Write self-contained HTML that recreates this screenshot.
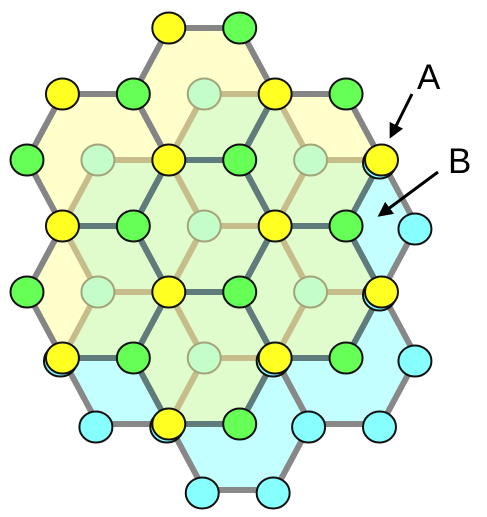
<!DOCTYPE html>
<html><head><meta charset="utf-8">
<style>
html,body{margin:0;padding:0;background:#fff;}
svg{display:block;}
text{font-family:"Liberation Sans",sans-serif;}
</style></head>
<body>
<svg id="svg" width="487" height="517" viewBox="0 0 487 517" xmlns="http://www.w3.org/2000/svg">
<defs>
<clipPath id="cyanClip"></clipPath>
<clipPath id="yellowClip"></clipPath>
<marker id="ah" viewBox="0 0 10 10" refX="8" refY="5" markerWidth="5" markerHeight="5" orient="auto"><path d="M0,0 L10,5 L0,10 z" fill="#000"/></marker>
</defs>
<g id="fills"></g>
<g id="edges"></g>
<g id="nodes"></g>
<g>
<text x="417" y="89" font-size="35" fill="#000">A</text>
<line x1="412" y1="94" x2="391" y2="136" stroke="#000" stroke-width="3" marker-end="url(#ah)"/>
</g>
<g>
<text x="448" y="173" font-size="35" fill="#000">B</text>
<line x1="438" y1="172" x2="380" y2="215" stroke="#000" stroke-width="3" marker-end="url(#ah)"/>
</g>
</svg>
<script>
// lattice indices (k,n)
const topHexCenters = [[5,1],[2,2],[8,2],[5,3],[2,4],[8,4],[5,5]];
const cyanHexCenters = [[6,2],[3,3],[9,3],[6,4],[3,5],[9,5],[6,6]];
const yellowNodes = [[4,0],[1,1],[7,1],[4,2],[10,2],[1,3],[7,3],[4,4],[10,4],[1,5],[7,5],[4,6]];
const greenNodes = [[6,0],[3,1],[9,1],[0,2],[6,2],[3,3],[9,3],[0,4],[6,4],[3,5],[9,5],[6,6]];
const lightNodes = [[5,1],[2,2],[8,2],[5,3],[2,4],[8,4],[5,5]];
const cyanNodes = [[11,3],[11,5],[2,6],[8,6],[10,6],[5,7],[7,7],[10,2],[1,5],[4,6],[7,5],[10,4]];

const NS="http://www.w3.org/2000/svg";
const X=k=>27+35.45*k, Y=n=>28+66*n;
function el(t,a,p){const e=document.createElementNS(NS,t);for(const q in a)e.setAttribute(q,a[q]);p.appendChild(e);return e;}
function hexPts(c){const k=c[0],n=c[1];return [[k-2,n],[k-1,n-1],[k+1,n-1],[k+2,n],[k+1,n+1],[k-1,n+1]];}
function ptsStr(c){return hexPts(c).map(p=>X(p[0])+','+Y(p[1])).join(' ');}
const fills=document.getElementById('fills'),edges=document.getElementById('edges'),nodes=document.getElementById('nodes');
const cc=document.getElementById('cyanClip'),yc=document.getElementById('yellowClip');
cyanHexCenters.forEach(c=>el('polygon',{points:ptsStr(c)},cc));
topHexCenters.forEach(c=>el('polygon',{points:ptsStr(c)},yc));

cyanHexCenters.forEach(c=>{
 const p=el('polygon',{points:ptsStr(c),fill:'#c4ffff'},fills);
 
 
});
topHexCenters.forEach(c=>{
 const p=el('polygon',{points:ptsStr(c),fill:'#ffffcc'},fills);
 
 
});
const ov=el('g',{'clip-path':'url(#cyanClip)'},fills);
topHexCenters.forEach(c=>{
 const p=el('polygon',{points:ptsStr(c),fill:'#e0fccc'},ov);
 
 
});
const mask=el('mask',{id:'outY'},document.querySelector('defs'));
el('rect',{x:0,y:0,width:487,height:517,fill:'#fff'},mask);
topHexCenters.forEach(c=>el('polygon',{points:ptsStr(c),fill:'#000'},mask));
const cg=el('g',{mask:'url(#outY)'},edges);
const ct=el('g',{'clip-path':'url(#yellowClip)'},edges);
cyanHexCenters.forEach(c=>{
 const a=el('polygon',{points:ptsStr(c),fill:'none',stroke:'#888','stroke-width':6,'stroke-linejoin':'round'},cg);
 
 
 const b=el('polygon',{points:ptsStr(c),fill:'none',stroke:'#c6bd8a','stroke-width':6,'stroke-linejoin':'round'},ct);
 
 
});
const mask2=el('mask',{id:'outC'},document.querySelector('defs'));
el('rect',{x:0,y:0,width:487,height:517,fill:'#fff'},mask2);
cyanHexCenters.forEach(c=>el('polygon',{points:ptsStr(c),fill:'#000'},mask2));
const tg=el('g',{mask:'url(#outC)'},edges);
const tt=el('g',{'clip-path':'url(#cyanClip)'},edges);
topHexCenters.forEach(c=>{
 const a=el('polygon',{points:ptsStr(c),fill:'none',stroke:'#858585','stroke-width':6,'stroke-linejoin':'round'},tg);
 
 
 const b=el('polygon',{points:ptsStr(c),fill:'none',stroke:'#5f7b7b','stroke-width':6,'stroke-linejoin':'round'},tt);
 
 
});
function node(p,fill,stroke,sw,dx,dy,name){
 const e=el('ellipse',{cx:X(p[0])+dx,cy:Y(p[1])+dy,rx:16.5,ry:15.5,fill:fill,stroke:stroke,'stroke-width':sw},nodes);
 
 
}
cyanNodes.forEach(p=>node(p,'#88ffff','#111',2,-2,3,'cyan-atom'));
lightNodes.forEach(p=>node(p,'#c4fcca','#a4a47a',2,0,0,'middle-layer-atom'));
yellowNodes.forEach(p=>node(p,'#ffff22','#111',2,0,0,'yellow-atom'));
greenNodes.forEach(p=>node(p,'#66ff55','#111',2,0,0,'green-atom'));
</script>
</body></html>
